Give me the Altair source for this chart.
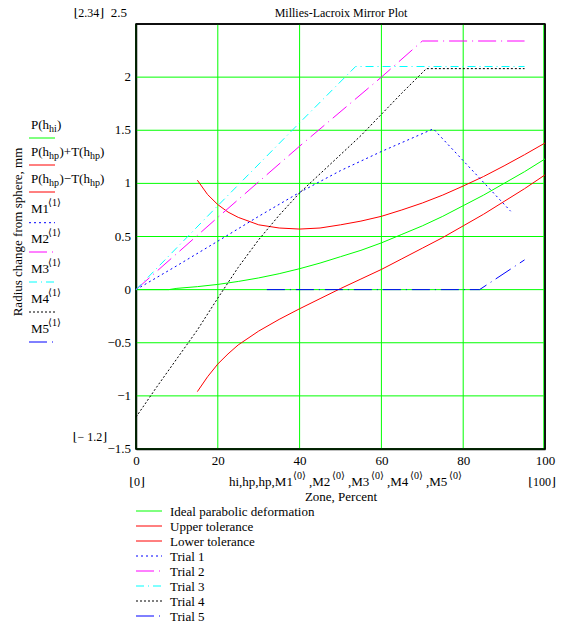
import altair as alt
import pandas as pd

# ---------------- data ----------------
ideal_x = [0, 8, 10, 15, 20, 25, 30, 35, 40, 45, 50, 55, 60, 65, 70, 75, 80, 85, 90, 95, 100]
ideal_y = [0, 0.0, 0.012, 0.028, 0.049, 0.077, 0.11, 0.15, 0.197, 0.25, 0.31, 0.37, 0.44,
           0.52, 0.60, 0.69, 0.79, 0.89, 1.0, 1.11, 1.23]

tol_x = [15, 17.5, 20, 22.5, 25, 30, 35, 40, 45, 50, 55, 60, 65, 70, 75, 80, 85, 90, 95, 100]
upper_y = [1.03, 0.895, 0.80, 0.73, 0.68, 0.61, 0.58, 0.57, 0.58, 0.61, 0.645, 0.69, 0.75,
           0.815, 0.89, 0.975, 1.065, 1.165, 1.27, 1.38]
lower_y = [-0.96, -0.82, -0.70, -0.605, -0.52, -0.39, -0.28, -0.18, -0.085, 0.01, 0.10, 0.19,
           0.29, 0.39, 0.49, 0.60, 0.71, 0.83, 0.95, 1.08]

m1_x = [0, 10, 20, 30, 40, 50, 60, 72.7, 91.6]
m1_y = [0, 0.225, 0.456, 0.69, 0.915, 1.12, 1.30, 1.513, 0.738]
m2_x = [0, 20, 40, 60, 70, 95]
m2_y = [0, 0.68, 1.35, 2.0, 2.34, 2.34]
m3_x = [0, 20, 40, 53.7, 95]
m3_y = [0, 0.79, 1.57, 2.10, 2.10]
m4_x = [0, 5, 10, 15, 20, 25, 30, 35, 40, 45, 50, 55, 60, 65, 71, 95]
m4_y = [-1.2, -0.92, -0.65, -0.38, -0.08, 0.21, 0.47, 0.70, 0.91, 1.09, 1.27, 1.45, 1.65,
        1.85, 2.08, 2.08]
m5_x = [32, 84, 95]
m5_y = [0, 0, 0.28]

x_ticks = [0, 20, 40, 60, 80, 100]
y_grid = [-1.5, -1, -0.5, 0, 0.5, 1, 1.5, 2, 2.5]
y_ticks = [-1.5, -1, -0.5, 0, 0.5, 1, 1.5, 2]
y_tick_labels = ["\u22121.5", "\u22121", "\u22120.5", "0", "0.5", "1", "1.5", "2"]
y_top_tick = [2.5]
y_top_label = ["2.5"]
x_frame = [0, 100]
y_frame = [-1.5, 2.5]

legend_names = ["Ideal parabolic deformation", "Upper tolerance", "Lower tolerance",
                "Trial 1", "Trial 2", "Trial 3", "Trial 4", "Trial 5"]

# ---------------- layout / style ----------------
W, H = 409, 425
OX, OY = 136, 24
SERIF = "'Liberation Serif', 'Times New Roman', 'DejaVu Serif', serif"
GREEN, RED, BLUE = "#00ff00", "#ff0000", "#0000ff"
MAGENTA, CYAN, BLACK = "#ff00ff", "#00ffff", "#000000"

xs = alt.Scale(domain=[0, 100], nice=False, zero=False)
ys = alt.Scale(domain=[-1.5, 2.5], nice=False, zero=False)

x_axis = alt.Axis(values=x_ticks, grid=False, ticks=False, domain=True, domainColor=BLACK,
                  domainWidth=1.5, labelFont=SERIF, labelFontSize=13, labelColor=BLACK,
                  labelPadding=5, labelFlush=False, labelOverlap=False, title=None)
y_axis = alt.Axis(values=y_grid, grid=False, ticks=False, domain=True, domainColor=BLACK,
                  domainWidth=1.5, labels=False, title=None)

styles = [  # color, dash
    (GREEN, None), (RED, None), (RED, None), (BLUE, [2, 3]),
    (MAGENTA, [18, 5, 1, 5]), (CYAN, [8, 4, 1, 4]), (BLACK, [2, 2]), (BLUE, [18, 5, 1, 5]),
]
series = [(ideal_x, ideal_y), (tol_x, upper_y), (tol_x, lower_y), (m1_x, m1_y),
          (m2_x, m2_y), (m3_x, m3_y), (m4_x, m4_y), (m5_x, m5_y)]


def px_x(col):
    return alt.X(col, type="quantitative", scale=None, axis=None)


def px_y(col):
    return alt.Y(col, type="quantitative", scale=None, axis=None)


def text_layer(rows, align="left", baseline="alphabetic", angle=0):
    df = pd.DataFrame(rows, columns=["t", "px", "py", "fs"])
    df["vx"] = df["px"] - OX
    df["vy"] = df["py"] - OY
    kw = dict(align=align, baseline=baseline, font=SERIF, color=BLACK)
    if angle:
        kw["angle"] = angle
    return alt.Chart(df).mark_text(**kw).encode(
        x=px_x("vx"), y=px_y("vy"), text="t:N",
        size=alt.Size("fs:Q", scale=None, legend=None),
    )


layers = []

# green grid lines
layers.append(alt.Chart(pd.DataFrame({"g": x_ticks[:-1] + [99.7]})).mark_rule(
    color=GREEN, strokeWidth=1).encode(x=alt.X("g:Q", scale=xs, axis=x_axis)))
layers.append(alt.Chart(pd.DataFrame({"g": y_grid[:-1]})).mark_rule(
    color=GREEN, strokeWidth=1).encode(y=alt.Y("g:Q", scale=ys, axis=y_axis)))
# black frame (top / right / left / bottom)
layers.append(alt.Chart(pd.DataFrame({"g": x_frame})).mark_rule(
    color=BLACK, strokeWidth=1.5).encode(x=alt.X("g:Q", scale=xs, axis=x_axis)))
layers.append(alt.Chart(pd.DataFrame({"g": y_frame})).mark_rule(
    color=BLACK, strokeWidth=1.5).encode(y=alt.Y("g:Q", scale=ys, axis=y_axis)))

for (sx, sy), (c, d) in zip(series, styles):
    df = pd.DataFrame({"x": sx, "y": sy, "o": list(range(len(sx)))})
    kw = dict(color=c, strokeWidth=1)
    if d:
        kw["strokeDash"] = d
    layers.append(alt.Chart(df).mark_line(**kw).encode(
        x=alt.X("x:Q", scale=xs, axis=x_axis),
        y=alt.Y("y:Q", scale=ys, axis=y_axis),
        order="o:Q",
    ))

# legend line samples (left key and bottom key)
left_line_y = [138, 165, 192, 222.7, 252, 282, 312, 342]
bottom_line_y = [511, 526, 541, 556, 571, 586, 601, 616]
for i, (c, d) in enumerate(styles):
    df = pd.DataFrame({
        "x1": [29 - OX, 136 - OX],
        "x2": [55 - OX, 162 - OX],
        "y": [left_line_y[i] - OY, bottom_line_y[i] - OY],
    })
    kw = dict(color=c, strokeWidth=1)
    if d:
        kw["strokeDash"] = d
    layers.append(alt.Chart(df).mark_rule(**kw).encode(
        x=px_x("x1"), x2="x2:Q", y=px_y("y")))

# y tick labels
ydf = pd.DataFrame({"v": y_ticks, "t": y_tick_labels})
layers.append(alt.Chart(ydf).mark_text(align="right", baseline="middle", font=SERIF,
                                       fontSize=13, color=BLACK).encode(
    x=alt.value(-5), y=alt.Y("v:Q", scale=ys, axis=y_axis), text="t:N"))
ytop = pd.DataFrame({"v": y_top_tick, "t": y_top_label})
layers.append(alt.Chart(ytop).mark_text(align="right", baseline="middle", font=SERIF,
                                        fontSize=13, color=BLACK, dy=-11).encode(
    x=alt.value(-9), y=alt.Y("v:Q", scale=ys, axis=y_axis), text="t:N"))

# bottom key labels
layers.append(text_layer([(n, 170, y + 0.5, 13) for n, y in zip(legend_names, bottom_line_y)],
                         baseline="middle"))

# left key labels (Mathcad trace names)
left_rows = [
    ("P(h", 31, 129, 13), ("hi", 49, 132, 10), (")", 57, 129, 13),
    ("P(h", 31, 156, 13), ("hp", 49, 159, 10), (")+T(h", 59.5, 156, 13), ("hp", 90, 159, 10), (")", 100, 156, 13),
    ("P(h", 31, 183, 13), ("hp", 49, 186, 10), (")\u2212T(h", 59.5, 183, 13), ("hp", 90, 186, 10), (")", 100, 183, 13),
]
m_base = [213, 242.5, 272.5, 302.5, 332.5]
for k, b in enumerate(m_base):
    left_rows.append(("M%d" % (k + 1), 31, b, 13))
    left_rows.append(("\u27e81\u27e9", 48, b - 7, 10))
layers.append(text_layer(left_rows))

# x expression under the axis
xexpr = [
    ("hi,hp,hp,M1", 229, 486, 13), ("\u27e80\u27e9", 293, 479, 10),
    (",M2", 309, 486, 13), ("\u27e80\u27e9", 332, 479, 10),
    (",M3", 348, 486, 13), ("\u27e80\u27e9", 371, 479, 10),
    (",M4", 387, 486, 13), ("\u27e80\u27e9", 410, 479, 10),
    (",M5", 426, 486, 13), ("\u27e80\u27e9", 449, 479, 10),
]
layers.append(text_layer(xexpr))

# centered texts
layers.append(text_layer([
    ("Millies-Lacroix Mirror Plot", 341, 13, 12),
    ("Zone, Percent", 341, 497, 13),
    ("\u230a0\u230b", 137, 482, 12),
    ("\u230a100\u230b", 542, 482, 12),
], align="center", baseline="middle"))

# right-aligned limit markers
layers.append(text_layer([
    ("\u230a2.34\u230b", 104, 13, 12),
    ("\u230a\u2212 1.2\u230b", 107, 437, 12),
], align="right", baseline="middle"))

# y title
layers.append(text_layer([("Radius change from sphere, mm", 18, 232, 13)],
                         align="center", baseline="middle", angle=270))

chart = alt.layer(*layers).properties(
    width=W, height=H,
    padding={"left": OX, "top": OY, "right": 574 - OX - W, "bottom": 632 - OY - H},
    autosize=alt.AutoSizeParams(type="none"),
    background="white",
).configure_view(stroke=BLACK, strokeWidth=1.5)

chart.save("out.html", embed_options={"renderer": "svg", "actions": False})
